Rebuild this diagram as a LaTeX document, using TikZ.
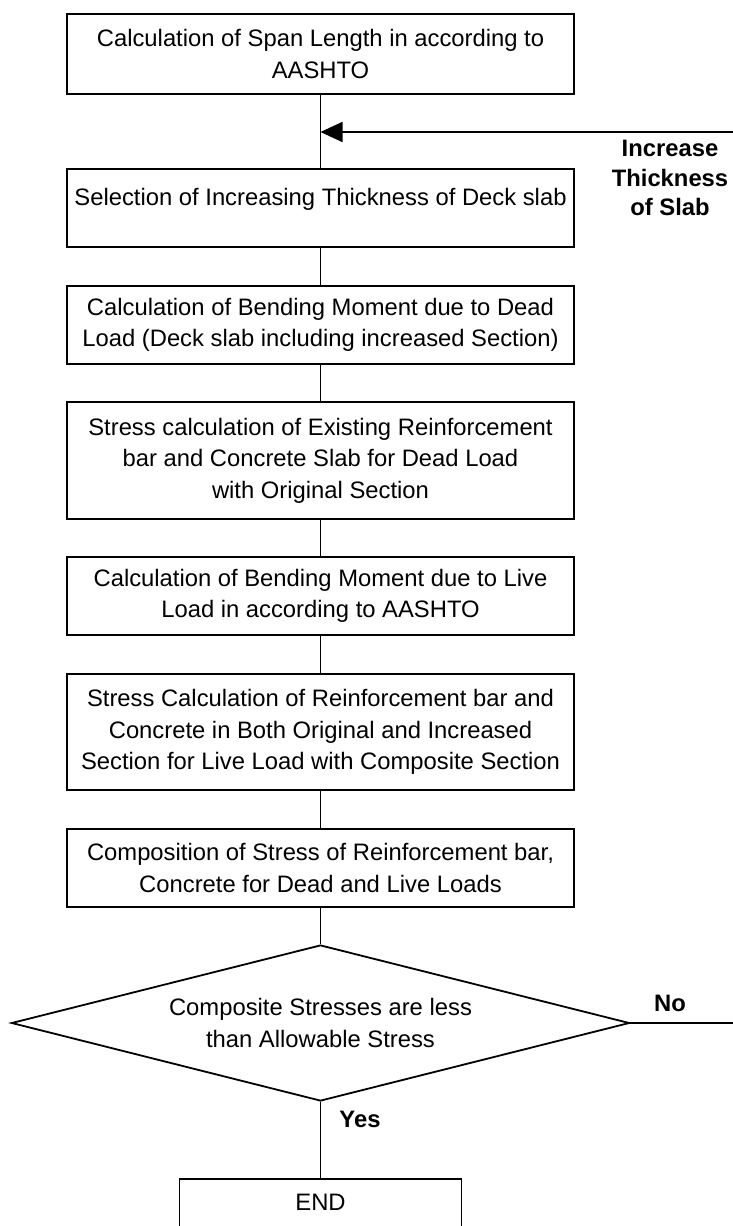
\documentclass[tikz,border=0pt]{standalone}
\usepackage{fontspec}
\setmainfont{Liberation Sans}
\usetikzlibrary{shapes.geometric,arrows.meta}
\begin{document}
\begin{tikzpicture}[x=1pt,y=-1pt,
  every node/.style={font=\fontsize{23.8}{31.5}\selectfont},
  procbox/.style={draw, line width=1.8pt, rectangle, align=center, inner sep=0pt, minimum width=507pt},
  decision/.style={draw, line width=1.8pt, diamond, align=center, inner sep=0pt,
    shape aspect=3.96, minimum width=618pt, minimum height=156pt},
  link/.style={line width=1.8pt},
  tag/.style={font=\fontsize{23.8}{29.5}\selectfont\bfseries, align=center, inner sep=0pt}
]
\useasboundingbox (0,0) rectangle (733,1226);
\begin{scope}
\clip (0,0) rectangle (733,1226);

% process steps
\node[procbox, minimum height=80pt] (span) at (320.5,54)
  {Calculation of Span Length in according to\\AASHTO};
\node[procbox, minimum height=78pt, text height=17pt, text depth=22pt] (thick) at (320.5,208)
  {Selection of Increasing Thickness of Deck slab};
\node[procbox, minimum height=78pt] (deadbm) at (320.5,325)
  {Calculation of Bending Moment due to Dead\\Load (Deck slab including increased Section)};
\node[procbox, minimum height=117pt] (deadst) at (320.5,460.5)
  {Stress calculation of Existing Reinforcement\\bar and Concrete Slab for Dead Load\\with Original Section};
\node[procbox, minimum height=78pt] (livebm) at (320.5,596)
  {Calculation of Bending Moment due to Live\\Load in according to AASHTO};
\node[procbox, minimum height=116pt] (livest) at (320.5,732)
  {Stress Calculation of Reinforcement bar and\\Concrete in Both Original and Increased\\Section for Live Load with Composite Section};
\node[procbox, minimum height=78pt] (combine) at (320.5,868)
  {Composition of Stress of Reinforcement bar,\\Concrete for Dead and Live Loads};

% decision and end
\node[decision] (check) at (320.5,1023)
  {Composite Stresses are less\\than Allowable Stress};
\node[draw, line width=1.8pt, anchor=north, inner sep=0pt, minimum width=282pt,
  text height=32pt, text depth=48pt] (finish) at (320.5,1178) {END};

% loop-back points
\coordinate (merge) at (320.5,132);
\coordinate (loopin) at (733,132);
\coordinate (noend) at (733,1023);

% connectors
\draw[link] (span.south) -- (thick.north);
\draw[link, -{Triangle[length=22pt,width=20pt]}] (loopin) -- (merge);
\draw[link] (thick.south) -- (deadbm.north);
\draw[link] (deadbm.south) -- (deadst.north);
\draw[link] (deadst.south) -- (livebm.north);
\draw[link] (livebm.south) -- (livest.north);
\draw[link] (livest.south) -- (combine.north);
\draw[link] (combine.south) -- (check.north);
\draw[link] (check.south) -- (finish.north);
\draw[link] (check.east) -- (noend);

% labels
\node[tag] (loopnote) at (670,178) {Increase\\Thickness\\of Slab};
\node[tag] (nolabel) at (670,1003) {No};
\node[tag] (yeslabel) at (360,1119) {Yes};
\end{scope}
\end{tikzpicture}
\end{document}
